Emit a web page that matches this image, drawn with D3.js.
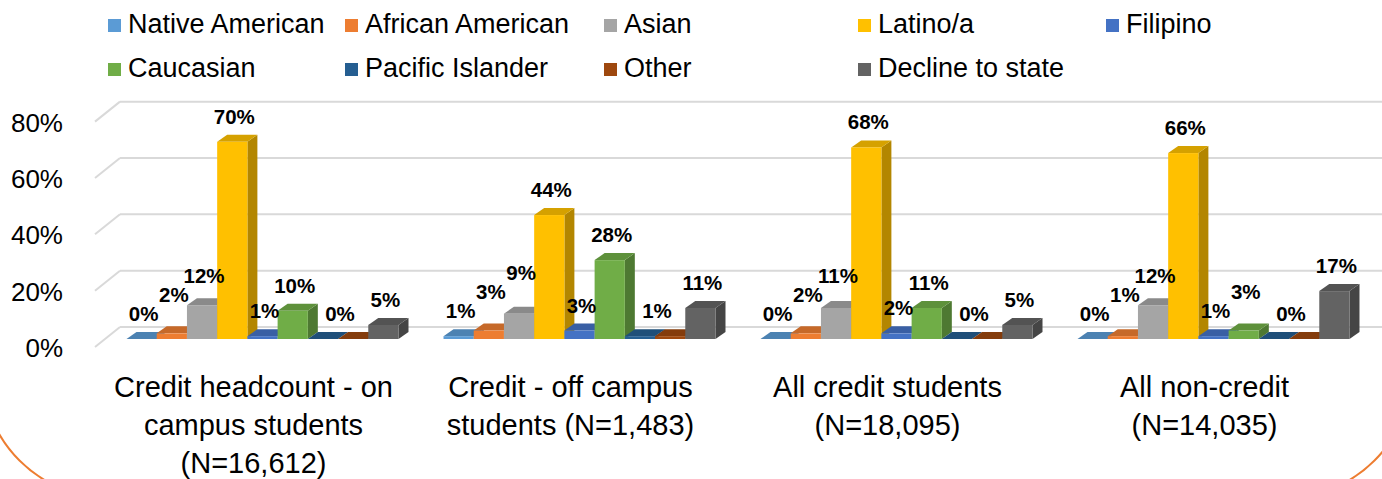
<!DOCTYPE html>
<html>
<head>
<meta charset="utf-8">
<script src="https://cdn.jsdelivr.net/npm/d3@7"></script>
<style>
  body { margin: 0; background: #fff; }
  svg { display: block; font-family: "Liberation Sans", Arial, sans-serif; }
</style>
</head>
<body>
<svg id="chart" width="1382" height="479"></svg>
<script>
// data
const categories = ['Credit headcount - on campus students (N=16,612)', 'Credit - off campus students (N=1,483)', 'All credit students (N=18,095)', 'All non-credit (N=14,035)']
const seriesNames = ['Native American', 'African American', 'Asian', 'Latino/a', 'Filipino', 'Caucasian', 'Pacific Islander', 'Other', 'Decline to state']
const seriesColors = ['#5B9BD5', '#ED7D31', '#A5A5A5', '#FFC000', '#4472C4', '#70AD47', '#255E91', '#9E480E', '#636363']
const nativeAmerican = [0, 1, 0, 0]
const africanAmerican = [2, 3, 2, 1]
const asian = [12, 9, 11, 12]
const latino = [70, 44, 68, 66]
const filipino = [1, 3, 2, 1]
const caucasian = [10, 28, 11, 3]
const pacificIslander = [0, 1, 0, 0]
const other = [0, 1, 0, 0]
const declineToState = [5, 11, 5, 17]
const yTicks = [0, 20, 40, 60, 80]

const values = [nativeAmerican, africanAmerican, asian, latino, filipino, caucasian, pacificIslander, other, declineToState]

// layout
const W = 1382, H = 479
const depthX = 10, depthY = 7       // bar depth projection
const wallX = 25, wallY = 20        // side wall projection
const backOffset = 12               // back wall sits this far above bar fronts
const legendCols = [108, 345, 604, 858, 1106]
const legendRows = [19, 63]

const svg = d3.select('#chart')

// slide frame (rounded border, only the corners show)
svg.append('rect')
  .attr('x', -18).attr('y', -220)
  .attr('width', 1430).attr('height', 718)
  .attr('rx', 128).attr('ry', 128)
  .attr('fill', 'none')
  .attr('stroke', '#ED7D31')
  .attr('stroke-width', 2)

const x0 = d3.scaleBand()
  .domain(categories)
  .range([104, 1372])
  .paddingInner(0.142)
  .paddingOuter(0.071)

const x1 = d3.scaleBand()
  .domain(seriesNames)
  .range([0, x0.bandwidth()])

const y = d3.scaleLinear()
  .domain([0, 80])
  .range([339, 339 - 80 * 2.817])

// back wall gridlines
const grid = svg.append('g').attr('class', 'grid')
yTicks.forEach(t => {
  const yb = y(t) - backOffset
  grid.append('line')
    .attr('x1', 95 + wallX).attr('y1', yb)
    .attr('x2', W).attr('y2', yb)
  grid.append('line')
    .attr('x1', 95).attr('y1', yb + wallY)
    .attr('x2', 95 + wallX).attr('y2', yb)
})
grid.selectAll('line')
  .attr('stroke', '#D9D9D9')
  .attr('stroke-width', 2)

// y axis labels
svg.append('g')
  .selectAll('text')
  .data(yTicks)
  .enter()
  .append('text')
  .attr('x', 63)
  .attr('y', (t) => y(t) + 18)
  .attr('text-anchor', 'end')
  .attr('font-size', 26)
  .attr('fill', '#000')
  .text((t) => t + '%')

// bars
const bars = svg.append('g').attr('class', 'bars')
categories.forEach((cat, g) => {
  seriesNames.forEach((name, s) => {
    const v = values[s][g]
    const x = x0(cat) + x1(name)
    const w = x1.bandwidth()
    const yt = y(v), yb = y(0)
    const base = d3.color(seriesColors[s])
    const bar = bars.append('g')
    bar.append('polygon')
      .attr('points', [[x + w, yt], [x + w + depthX, yt - depthY], [x + w + depthX, yb - depthY], [x + w, yb]].join(' '))
      .attr('fill', base.darker(1.0))
    bar.append('polygon')
      .attr('points', [[x, yt], [x + depthX, yt - depthY], [x + w + depthX, yt - depthY], [x + w, yt]].join(' '))
      .attr('fill', base.darker(0.5))
    bar.append('rect')
      .attr('x', x).attr('y', yt)
      .attr('width', w).attr('height', yb - yt)
      .attr('fill', base)
  })
})

// data labels
const labelLayer = svg.append('g').attr('class', 'labels')
categories.forEach((cat, g) => {
  // identical neighbouring labels sit on top of each other in the original
  const items = []
  seriesNames.forEach((name, s) => {
    const v = values[s][g]
    const cx = x0(cat) + x1(name) + x1.bandwidth() / 2 + 2
    const prev = items[items.length - 1]
    if (prev && prev.v === v && !prev.merged) {
      prev.cx = (prev.cx + cx) / 2
      prev.merged = true
      return
    }
    items.push({v: v, cx: cx, base: y(v) - 18})
  })
  const placed = []
  items.forEach(it => {
    const t = labelLayer.append('text')
      .attr('text-anchor', 'middle')
      .attr('font-size', 20.5)
      .attr('font-weight', 'bold')
      .attr('fill', '#000')
      .text(it.v + '%')
    const w = t.node().getComputedTextLength()
    let moved = true
    while (moved) {
      moved = false
      for (const p of placed) {
        const hOver = it.cx - w / 2 - 2 < p.x2 && it.cx + w / 2 + 2 > p.x1
        const vOver = it.base - 15 - 3 < p.y2 && it.base + 3 > p.y1
        if (hOver && vOver) {
          it.base = p.y1 - 4
          moved = true
        }
      }
    }
    placed.push({x1: it.cx - w / 2, x2: it.cx + w / 2, y1: it.base - 15, y2: it.base})
    t.attr('x', it.cx).attr('y', it.base)
  })
})

// category labels
function wrap(textSel, width) {
  textSel.each(function () {
    const text = d3.select(this)
    const words = text.text().split(/\s+/)
    const x = text.attr('x')
    text.text(null)
    let line = []
    let tspan = text.append('tspan').attr('x', x).attr('dy', 0)
    words.forEach(word => {
      line.push(word)
      tspan.text(line.join(' '))
      if (tspan.node().getComputedTextLength() > width && line.length > 1) {
        line.pop()
        tspan.text(line.join(' '))
        line = [word]
        tspan = text.append('tspan').attr('x', x).attr('dy', 38).text(word)
      }
    })
  })
}

svg.append('g')
  .selectAll('text')
  .data(categories)
  .enter()
  .append('text')
  .attr('x', (c) => x0(c) + x0.bandwidth() / 2 - 9)
  .attr('y', y(0) + 58)
  .attr('text-anchor', 'middle')
  .attr('font-size', 29)
  .attr('fill', '#000')
  .text((c) => c)
  .call(wrap, 300)

// legend
const legend = svg.append('g').attr('class', 'legend')
seriesNames.forEach((name, i) => {
  const col = i % 5, row = Math.floor(i / 5)
  const lx = legendCols[col], ly = legendRows[row]
  legend.append('rect')
    .attr('x', lx).attr('y', ly)
    .attr('width', 13).attr('height', 13)
    .attr('fill', seriesColors[i])
  legend.append('text')
    .attr('x', lx + 20)
    .attr('y', ly + 14)
    .attr('font-size', 27)
    .attr('fill', '#000')
    .text(name)
})
</script>
</body>
</html>
